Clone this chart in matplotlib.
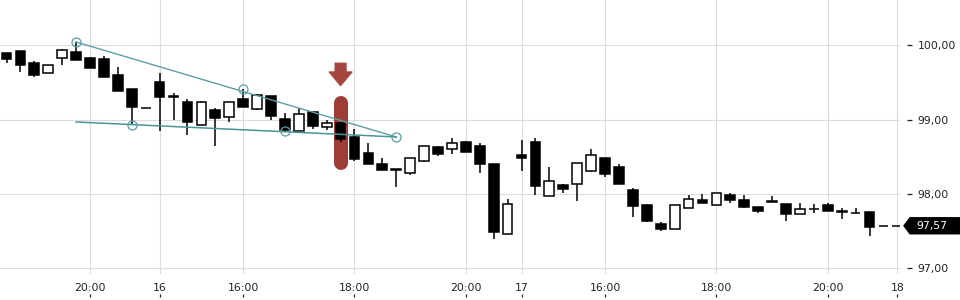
import numpy as np
import matplotlib
matplotlib.use("Agg")
import matplotlib.pyplot as plt
from matplotlib.patches import Polygon
from matplotlib.transforms import IdentityTransform

# candles, 15 min bars (index based x axis, gaps skipped)
opens = [99.895, 99.926, 99.760, 99.625, 99.827, 99.908, 99.832, 99.818, 99.602, 99.414,
         99.158, 99.508, 99.315, 99.239, 98.933, 99.127, 99.032, 99.279, 99.148, 99.319,
         99.009, 98.844, 99.100, 98.898, 98.951, 98.763, 98.547, 98.399, 98.336, 98.278,
         98.447, 98.636, 98.601, 98.695, 98.646, 98.403, 97.456, 98.524, 98.695, 97.968,
         98.116, 98.129, 98.313, 98.480, 98.363, 98.053, 97.850, 97.590, 97.531, 97.806,
         97.914, 97.846, 97.981, 97.914, 97.819, 97.905, 97.864, 97.725, 97.800, 97.855,
         97.765, 97.742, 97.752, 97.570, 97.570]
highs = [99.895, 99.926, 99.791, 99.733, 99.953, 100.051, 99.845, 99.854, 99.710, 99.414,
         99.158, 99.633, 99.360, 99.279, 99.248, 99.154, 99.235, 99.418, 99.350, 99.319,
         99.090, 99.158, 99.100, 98.992, 98.951, 98.879, 98.682, 98.480, 98.336, 98.480,
         98.642, 98.650, 98.749, 98.709, 98.686, 98.403, 97.931, 98.726, 98.753, 98.358,
         98.133, 98.412, 98.605, 98.480, 98.399, 98.080, 97.864, 97.617, 97.846, 97.981,
         97.999, 98.008, 98.008, 97.981, 97.828, 97.972, 97.864, 97.873, 97.864, 97.881,
         97.806, 97.806, 97.752, 97.570, 97.570]
lows = [99.768, 99.647, 99.580, 99.625, 99.741, 99.809, 99.701, 99.580, 99.391, 98.938,
        99.158, 98.852, 98.996, 98.798, 98.933, 98.650, 98.973, 99.175, 99.135, 98.996,
        98.848, 98.844, 98.871, 98.857, 98.704, 98.447, 98.399, 98.318, 98.089, 98.251,
        98.430, 98.515, 98.534, 98.569, 98.286, 97.388, 97.456, 98.313, 97.981, 97.968,
        98.016, 97.908, 98.299, 98.232, 98.137, 97.693, 97.625, 97.504, 97.531, 97.806,
        97.873, 97.846, 97.873, 97.814, 97.747, 97.890, 97.639, 97.725, 97.747, 97.774,
        97.658, 97.736, 97.433, 97.570, 97.570]
closes = [99.822, 99.741, 99.606, 99.733, 99.935, 99.809, 99.701, 99.580, 99.391, 99.175,
          99.158, 99.310, 99.305, 98.969, 99.235, 99.027, 99.235, 99.175, 99.333, 99.054,
          98.861, 99.073, 98.911, 98.951, 98.736, 98.474, 98.399, 98.318, 98.318, 98.480,
          98.642, 98.534, 98.686, 98.569, 98.399, 97.491, 97.860, 98.488, 98.102, 98.170,
          98.062, 98.412, 98.520, 98.272, 98.137, 97.841, 97.639, 97.531, 97.846, 97.927,
          97.873, 98.008, 97.922, 97.828, 97.765, 97.890, 97.725, 97.792, 97.800, 97.774,
          97.755, 97.736, 97.558, 97.570, 97.570]

# x axis labels (bar index -> label)
tick_pos = [6, 11, 17, 25, 33, 37, 43, 51, 59, 64]
tick_labels = ["20:00", "16", "16:00", "18:00", "20:00", "17", "16:00", "18:00", "20:00", "18"]
price_ticks = [97, 98, 99, 100]

# drawn trend lines: (bar index, price)
upper_line_x = [5, 28]
upper_line_y = [100.047, 98.767]
lower_line_x = [5, 28]
lower_line_y = [98.969, 98.767]
touch_x = [5, 17, 9, 20, 28]
touch_y = [100.047, 99.407, 98.928, 98.848, 98.767]

# signal marker
signal_bar = 24
signal_top = 99.32
signal_bottom = 98.32
arrow_top = 99.76
arrow_bottom = 99.46

last_price = 97.57

grid_col = "#dcdcdc"
teal = "#5c9fa3"
teal_dark = "#4a9598"
red = "#9e3d37"
txt = "#222222"

fig = plt.figure(figsize=(9.6, 3.0), dpi=100)
ax = fig.add_axes([0, 26 / 300, 900 / 960, 274 / 300])

x = np.arange(len(opens))
o = np.array(opens)
c = np.array(closes)

# signal highlight (pill) and arrow, below candles
cap = 7 / 74.2
ax.plot([signal_bar, signal_bar], [signal_top - cap, signal_bottom + cap], color=red,
        lw=14 * 0.72, solid_capstyle="round", zorder=1)
ax.annotate("", xy=(signal_bar, arrow_bottom), xytext=(signal_bar, arrow_top),
            arrowprops=dict(arrowstyle="simple,head_length=0.75,head_width=1.25,tail_width=0.6",
                            color="#a5453f", mutation_scale=13, shrinkA=0, shrinkB=0), zorder=1)

# wicks
ax.vlines(x, lows, highs, color="black", lw=1.1, zorder=2)
# bodies
fill = ["black" if cl < op else "white" for op, cl in zip(opens, closes)]
ax.bar(x, np.abs(c - o), bottom=np.minimum(o, c), width=0.7, color=fill,
       edgecolor="black", linewidth=1.1, zorder=3)

# trend lines
ax.plot(upper_line_x, upper_line_y, color=teal, lw=1.0, zorder=4)
ax.plot(lower_line_x, lower_line_y, color=teal_dark, lw=1.1, zorder=4)
ax.plot(touch_x, touch_y, "o", ms=6.5, mfc="none", mec=teal, mew=0.9, zorder=5)

# axes setup
ax.set_xlim(-0.467, 64.19)
ax.set_ylim(96.92, 100.613)
for s in ax.spines.values():
    s.set_visible(False)
ax.set_xticks(tick_pos)
ax.set_xticklabels(tick_labels)
ax.set_yticks(price_ticks)
ax.set_yticklabels([f"{v:.2f}".replace(".", ",") for v in price_ticks])
ax.yaxis.tick_right()
ax.spines["right"].set_position(("outward", 5))
ax.tick_params(axis="y", length=3.6, width=0.9, color=txt, pad=4, labelsize=7.8, labelcolor=txt)
ax.tick_params(axis="x", length=0, pad=6.5, labelsize=7.8, labelcolor=txt)
ax.grid(True, color=grid_col, lw=0.8)
ax.set_axisbelow(True)

# little ticks under the time labels
sec = ax.secondary_xaxis(-23 / 274)
sec.set_xticks(tick_pos)
sec.tick_params(direction="in", length=2.2, width=0.9, color=txt, labelbottom=False)
for s in sec.spines.values():
    s.set_visible(False)

# last price tag
xr = ax.transAxes.transform((1, 0))[0]
yc = ax.transData.transform((0, last_price))[1]
tag = Polygon([(xr + 4, yc), (xr + 10, yc + 8), (960, yc + 8), (960, yc - 8), (xr + 10, yc - 8)],
              closed=True, color="black", transform=IdentityTransform())
fig.patches.append(tag)
fig.text((xr + 16) / 960, yc / 300, f"{last_price:.2f}".replace(".", ","), color="white",
         fontsize=7.8, va="center", ha="left")

fig.savefig("out.png", dpi=100)
